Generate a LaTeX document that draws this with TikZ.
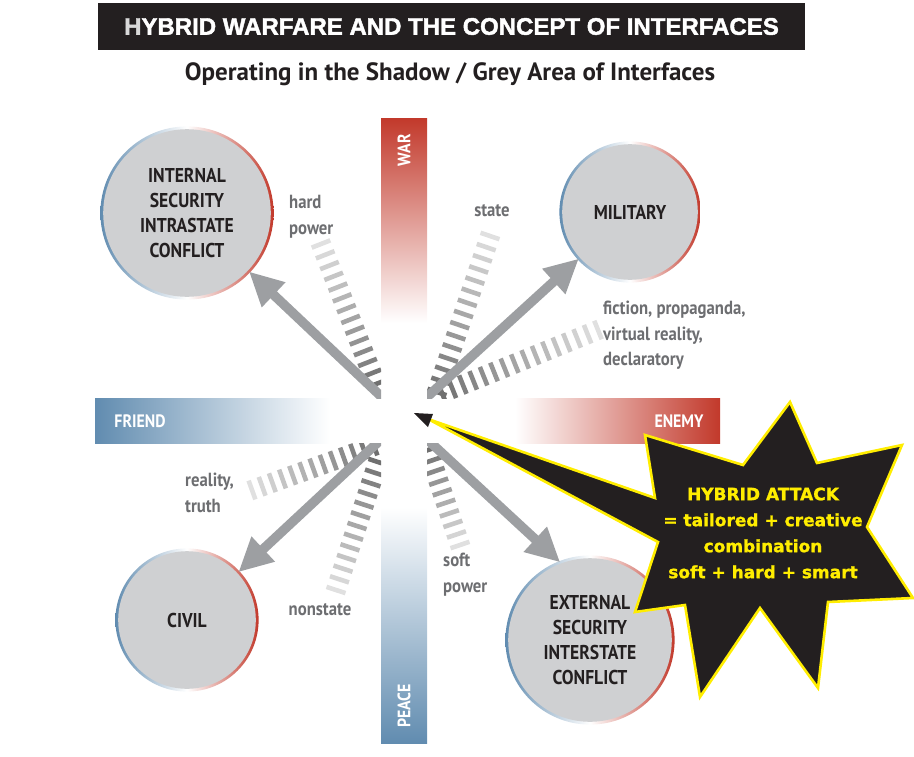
\documentclass[tikz,border=0pt]{standalone}
\usepackage{fontspec}
\setmainfont{PT Sans}[FakeStretch=0.88]
\newfontfamily\widefont{PT Sans}
\newfontfamily\titlefont{Liberation Sans}[BoldFeatures={FakeBold=1.8}]
\newfontfamily\starfont{DejaVu Sans}[BoldFeatures={FakeBold=1.2}]
\usetikzlibrary{calc}
\usetikzlibrary{arrows.meta}
\definecolor{warred}{RGB}{194,57,43}
\definecolor{peaceblue}{RGB}{97,140,176}
\definecolor{discgrey}{RGB}{207,208,210}
\definecolor{arrowgrey}{RGB}{157,159,162}
\definecolor{labelgrey}{RGB}{109,110,113}
\definecolor{inkblack}{RGB}{35,31,32}
\definecolor{staryellow}{RGB}{255,237,0}

% striped bar from #1 (dark end) to #2 (light end), #3 gaps
\newcommand{\hatchbar}[3]{%
  \coordinate (hatch-n) at ($(#1)!10pt!90:(#2)-(#1)$);
  \foreach \i in {0,...,#3}{
    \pgfmathsetmacro{\tone}{56-44*\i/#3}
    \draw[line width=4.6pt, black!\tone] ($(#1)!\i/#3!(#2)+(hatch-n)$) -- ($(#1)!\i/#3!(#2)-(hatch-n)$);
  }}

\begin{document}
\begin{tikzpicture}[x=1pt, y=-1pt,
    bigarrow/.style={arrowgrey, line width=9.5pt, -{Triangle[length=34pt, width=32pt]}},
    disc/.style={circle, minimum size=#1, inner sep=0pt, align=center, text=inkblack, font=\bfseries\fontsize{20}{25}\selectfont},
    lbl/.style={inner sep=0pt, align=left, text=labelgrey, font=\bfseries\fontsize{19}{25.5}\selectfont},
    bandtext/.style={text=white, font=\bfseries\fontsize{18}{18}\selectfont},
    startext/.style={align=center, text=staryellow, font=\starfont\bfseries\fontsize{17}{26}\selectfont}]
  \useasboundingbox (0,0) rectangle (914,756);

  % heading
  \node[fill=inkblack, minimum width=707pt, minimum height=47pt, inner sep=0pt, text=white,
    font=\titlefont\bfseries\fontsize{24}{24}\selectfont] (title) at (451.5,26.5)
    {{\color{black!15}H}YBRID WARFARE AND THE CONCEPT OF INTERFACES};
  \node[text=inkblack, font=\widefont\bfseries\fontsize{25}{25}\selectfont] (sub) at (450,74)
    {Operating in the Shadow / Grey Area of Interfaces};

  % the two axes
  \shade[top color=warred, bottom color=white] (381,118) rectangle (427,323);
  \shade[top color=white, bottom color=peaceblue] (381,507) rectangle (427,743);
  \shade[left color=peaceblue, right color=white] (95,398) rectangle (330,443);
  \shade[left color=white, right color=warred] (515,398) rectangle (720,443);
  \node[bandtext, rotate=90] (war) at (404,150) {WAR};
  \node[bandtext, rotate=90] (peace) at (404,706) {PEACE};
  \node[bandtext] (friend) at (140,421) {FRIEND};
  \node[bandtext] (enemy) at (679,421) {ENEMY};

  % the four domains
  \foreach \nm/\cx/\cy/\rad/\txt in {intl/187/213/85/{INTERNAL\\SECURITY\\INTRASTATE\\CONFLICT},
      mil/630/212/69/{MILITARY}, civ/187/620/70/{CIVIL},
      ext/590/640/83/{EXTERNAL\\SECURITY\\INTERSTATE\\CONFLICT}}{
    \pgfmathsetmacro{\rout}{\rad+1.6}
    \pgfmathsetmacro{\rin}{\rad-1.2}
    \pgfmathsetmacro{\dia}{2*\rad}
    \shade[left color=peaceblue, right color=warred, middle color=white] (\cx,\cy) circle[radius=\rout pt];
    \fill[discgrey] (\cx,\cy) circle[radius=\rin pt];
    \node[disc=\dia pt] (\nm) at (\cx,\cy) {\txt};
  }

  \coordinate (hub) at (404,418);
  \coordinate (hard-near) at (376,384);
  \coordinate (hard-far) at (321,244);
  \coordinate (state-near) at (437,392);
  \coordinate (state-far) at (490,236);
  \coordinate (fict-near) at (442,393);
  \coordinate (fict-far) at (598,330);
  \coordinate (real-near) at (374,446);
  \coordinate (real-far) at (252,490);
  \coordinate (non-near) at (378,462);
  \coordinate (non-far) at (336,590);
  \coordinate (soft-near) at (428,450);
  \coordinate (soft-far) at (460,545);

  \begin{scope}
    \clip (0,0) rectangle (381,398);
    \hatchbar{hard-near}{hard-far}{13}
    \draw[bigarrow] (hub) -- (intl);
  \end{scope}
  \begin{scope}
    \clip (427,0) rectangle (914,398);
    \hatchbar{state-near}{state-far}{14}
    \hatchbar{fict-near}{fict-far}{15}
    \draw[bigarrow] (hub) -- (mil);
  \end{scope}
  \begin{scope}
    \clip (0,443) rectangle (381,756);
    \hatchbar{real-near}{real-far}{12}
    \hatchbar{non-near}{non-far}{12}
    \draw[bigarrow] (hub) -- (civ);
  \end{scope}
  \begin{scope}
    \clip (427,443) rectangle (914,756);
    \hatchbar{soft-near}{soft-far}{9}
    \draw[bigarrow] (hub) -- (ext.111);
  \end{scope}

  % labels
  \node[lbl, anchor=north west] (hardlbl) at (289,195) {hard\\power};
  \node[lbl] (statelbl) at (492,211) {state};
  \node[lbl, anchor=north west] (fictlbl) at (603,301) {fiction, propaganda,\\virtual reality,\\declaratory};
  \node[lbl, anchor=north west] (reallbl) at (185,473) {reality,\\truth};
  \node[lbl] (nonlbl) at (320,610) {nonstate};
  \node[lbl, anchor=north west] (softlbl) at (443,553) {soft\\power};

  % hybrid attack
  \coordinate (aim) at (414,413);
  \filldraw[fill=inkblack, draw=staryellow, line width=2.6pt]
    (790,402) -- (817,463) -- (902,445) -- (867,527) -- (913,598) -- (828,602)
    -- (818,688) -- (760,608) -- (700,697) -- (685,605) -- (635,612) -- (658,542)
    -- (428,419) -- (655,498) -- (645,435) -- (743,465) -- cycle;
  \fill[inkblack] (aim) -- (433,414) -- (428,427) -- cycle;
  \node[startext] (attack) at (763,533) {HYBRID ATTACK\\= tailored + creative\\combination\\soft + hard + smart};
\end{tikzpicture}
\end{document}
